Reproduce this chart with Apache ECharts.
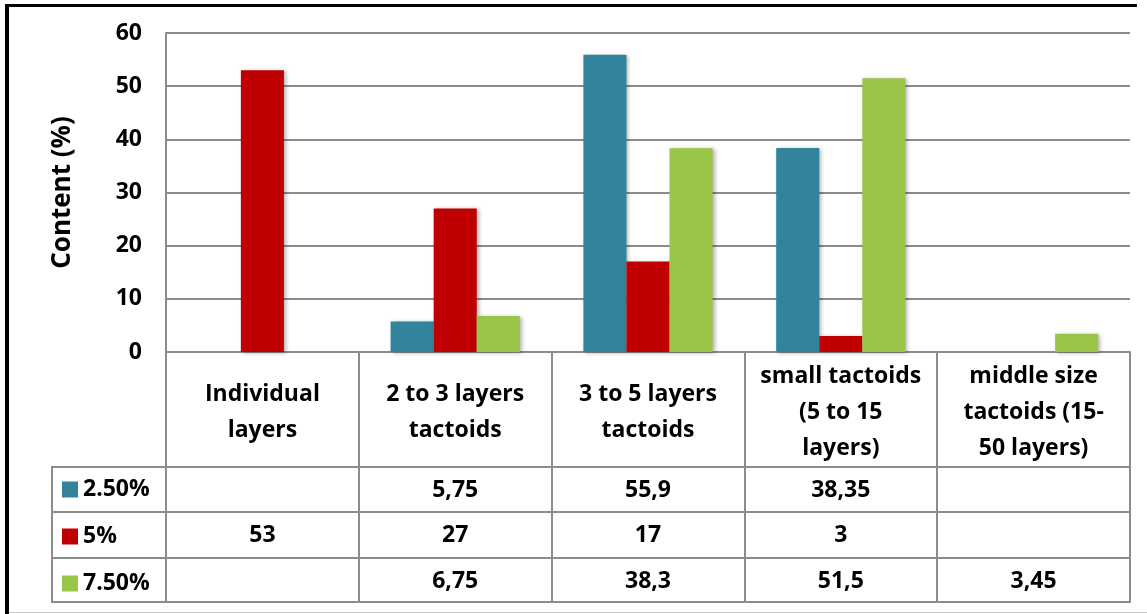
<!DOCTYPE html>
<html>
<head>
<meta charset="utf-8">
<script src="https://cdn.jsdelivr.net/npm/echarts@6/dist/echarts.min.js"></script>
<style>
    html, body { margin: 0; padding: 0; background: #fff; }
    #chartContainer { width: 1147px; height: 614px; }
</style>
</head>
<body>
<div id="chartContainer"></div>
<script>
// chart data
var categories = ['Individual\nlayers', '2 to 3 layers\ntactoids', '3 to 5 layers\ntactoids',
    'small tactoids\n(5 to 15\nlayers)', 'middle size\ntactoids (15-\n50 layers)'];
var seriesNames = ['2.50%', '5%', '7.50%'];
var seriesColors = ['#31849b', '#c00000', '#9bc548'];
var data25 = [null, 5.75, 55.9, 38.35, null];
var data5 = [53, 27, 17, 3, null];
var data75 = [null, 6.75, 38.3, 51.5, 3.45];
var yMin = 0, yMax = 60, yInterval = 10;

// layout
var gridLeft = 166, gridRight = 17, gridTop = 33, gridBottom = 262;
var headerH = 115, rowOffsets = [115, 160, 206, 250];
var grey = '#8c8c8c';
var font = 'Open Sans';
var fs = 23;

// 5.75 -> "5,75", empty cell for missing values
function fmt(v) {
    if (v === null || v === undefined) return '';
    return String(v).replace('.', ',');
}

function tableAxis(values, offset) {
    return {
        type: 'category', gridIndex: 0, position: 'bottom', offset: offset,
        data: categories,
        axisLine: { show: true, lineStyle: { color: grey, width: 2 } },
        axisTick: { show: true, interval: 0, length: 45, lineStyle: { color: grey, width: 2 } },
        axisLabel: {
            interval: 0, margin: 23, verticalAlign: 'middle',
            fontFamily: font, fontWeight: 'bold', fontSize: fs, color: '#000',
            formatter: function (val, idx) { return fmt(values[idx]); }
        },
        splitLine: { show: false }
    };
}

var myChart = echarts.init(document.getElementById('chartContainer'));
var H = 614;
var baseY = H - gridBottom;

var option = {
    backgroundColor: '#fff',
    animation: false,
    grid: { left: gridLeft, right: gridRight, top: gridTop, bottom: gridBottom },
    legend: {
        data: seriesNames, orient: 'vertical', left: 62, top: baseY + rowOffsets[0] + 11,
        padding: 0, icon: 'rect', itemWidth: 16, itemHeight: 16, itemGap: 24,
        itemStyle: { shadowBlur: 0, shadowOffsetX: 0, shadowOffsetY: 0 },
        textStyle: { fontFamily: font, fontWeight: 'bold', fontSize: fs, color: '#000', lineHeight: 20 }
    },
    xAxis: [
        {
            type: 'category', gridIndex: 0, position: 'bottom', data: categories,
            axisLine: { show: true, lineStyle: { color: grey, width: 2 } },
            axisTick: { show: true, interval: 0, length: headerH, lineStyle: { color: grey, width: 2 } },
            axisLabel: {
                interval: 0, margin: 60, verticalAlign: 'middle', lineHeight: 36,
                fontFamily: font, fontWeight: 'bold', fontSize: fs, color: '#000'
            }
        },
        tableAxis(data25, rowOffsets[0]),
        tableAxis(data5, rowOffsets[1]),
        tableAxis(data75, rowOffsets[2]),
        {
            type: 'category', gridIndex: 0, position: 'bottom', offset: rowOffsets[3], data: categories,
            axisLine: { show: true, lineStyle: { color: grey, width: 2 } },
            axisTick: { show: false }, axisLabel: { show: false }
        }
    ],
    yAxis: {
        type: 'value', min: yMin, max: yMax, interval: yInterval,
        name: 'Content (%)', nameLocation: 'middle', nameGap: 90,
        nameTextStyle: { fontFamily: font, fontWeight: 'bold', fontSize: 26, color: '#000' },
        axisLine: { show: true, lineStyle: { color: grey, width: 2 } },
        axisTick: { show: false },
        axisLabel: { margin: 24, fontFamily: font, fontWeight: 'bold', fontSize: fs, color: '#000' },
        splitLine: { lineStyle: { color: grey, width: 2 } }
    },
    series: [data25, data5, data75].map(function (d, i) {
        return {
            name: seriesNames[i], type: 'bar', xAxisIndex: 0, data: d,
            barGap: '0%', barCategoryGap: '33%',
            itemStyle: {
                color: seriesColors[i],
                shadowBlur: 4, shadowColor: 'rgba(0,0,0,0.3)', shadowOffsetX: 2, shadowOffsetY: 1
            }
        };
    }),
    graphic: [
        // outer frame
        { type: 'rect', shape: { x: 5, y: 4, width: 1132, height: 3 }, style: { fill: '#000' } },
        { type: 'rect', shape: { x: 5, y: 4, width: 4, height: 610 }, style: { fill: '#000' } },
        { type: 'line', shape: { x1: 9, y1: 612.5, x2: 1147, y2: 612.5 }, style: { stroke: '#c8c8c8', lineWidth: 1 } },
        // legend column of the data table
        { type: 'line', shape: { x1: 52, y1: baseY + rowOffsets[0], x2: 52, y2: baseY + rowOffsets[3] }, style: { stroke: grey, lineWidth: 2 } }
    ].concat(rowOffsets.map(function (o) {
        return { type: 'line', shape: { x1: 51, y1: baseY + o, x2: gridLeft, y2: baseY + o }, style: { stroke: grey, lineWidth: 2 } };
    }))
};
myChart.setOption(option);
</script>
</body>
</html>
